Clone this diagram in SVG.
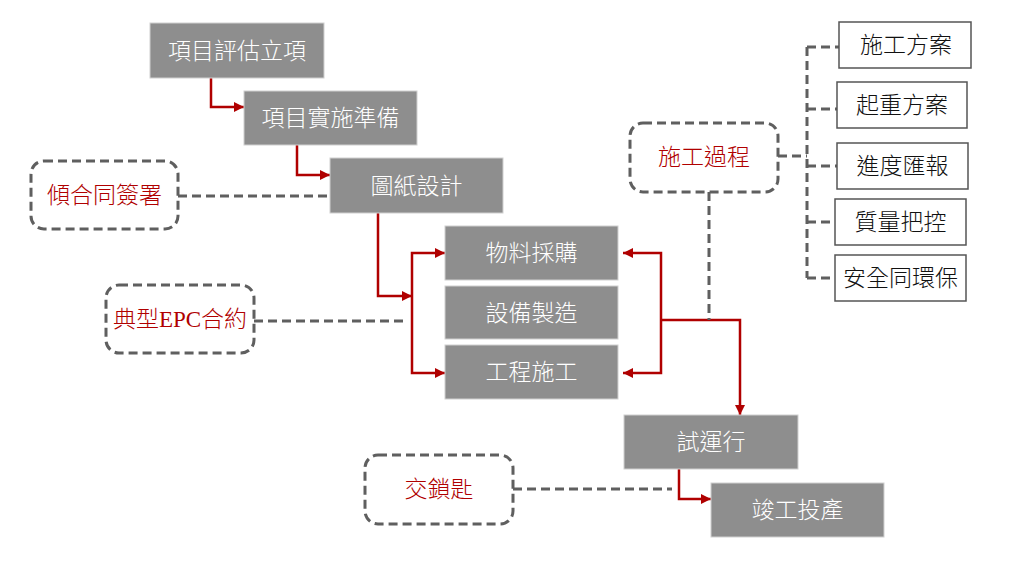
<svg xmlns="http://www.w3.org/2000/svg" width="1024" height="571" viewBox="0 0 1024 571">
<defs>
<marker id="ar" viewBox="0 0 10 10" refX="10" refY="5" markerWidth="11" markerHeight="10" markerUnits="userSpaceOnUse" orient="auto">
<path d="M0,0 L10,5 L0,10 Z" fill="#b00000"/>
</marker>
<style>
.g rect{fill:#8e8e8e;stroke:#d0d0d0;stroke-width:1}
.g text{fill:#ffffff;font-family:"Liberation Serif","Noto Sans CJK TC",serif;font-size:23px;font-weight:300;text-anchor:middle}
.w rect{fill:#ffffff;stroke:#555555;stroke-width:1.5}
.w text{fill:#111111;font-family:"Liberation Serif","Noto Sans CJK TC",serif;font-size:23px;font-weight:300;text-anchor:middle}
.d rect{fill:#ffffff;stroke:#5f5f5f;stroke-width:3;stroke-dasharray:9 5}
.d text{fill:#b00000;font-family:"Liberation Serif","Noto Sans CJK TC",serif;font-size:23px;font-weight:300;text-anchor:middle}
.red{fill:none;stroke:#b00000;stroke-width:2.5}
.dash{fill:none;stroke:#5f5f5f;stroke-width:3;stroke-dasharray:9 5}
</style>
</defs>
<rect width="1024" height="571" fill="#ffffff"/>
<g id="connectors">
<path class="red" d="M211,78 V107 H244" marker-end="url(#ar)"/>
<path class="red" d="M297,145 V175 H330" marker-end="url(#ar)"/>
<path class="red" d="M378,213 V296 H412" marker-end="url(#ar)"/>
<path class="red" d="M412,296 V253 H445" marker-end="url(#ar)"/>
<path class="red" d="M412,296 V373 H445" marker-end="url(#ar)"/>
<path class="red" d="M661,320 V253 H623" marker-end="url(#ar)"/>
<path class="red" d="M661,320 V373 H623" marker-end="url(#ar)"/>
<path class="red" d="M661,320 H740 V415" marker-end="url(#ar)"/>
<path class="red" d="M679,469 V499 H711" marker-end="url(#ar)"/>
<path class="dash" d="M178,196 H330"/>
<path class="dash" d="M254,321 H406"/>
<path class="dash" d="M513,489 H672"/>
<path class="dash" d="M709,192 V320"/>
<path class="dash" d="M778,156 H807"/>
<path class="dash" d="M807,47 V278"/>
<path class="dash" d="M807,47 H839"/>
<path class="dash" d="M807,109 H837"/>
<path class="dash" d="M807,166 H837"/>
<path class="dash" d="M807,222 H835"/>
<path class="dash" d="M807,278 H835"/>
</g>
<g id="n1" class="g"><rect x="150" y="23" width="174" height="55"/><text x="237" y="59">項目評估立項</text></g>
<g id="n2" class="g"><rect x="244" y="91" width="173" height="54"/><text x="330.5" y="126">項目實施準備</text></g>
<g id="n3" class="g"><rect x="330" y="158" width="173" height="55"/><text x="416.5" y="194">圖紙設計</text></g>
<g id="n4" class="g"><rect x="445" y="226" width="173" height="54"/><text x="531.5" y="261">物料採購</text></g>
<g id="n5" class="g"><rect x="445" y="286" width="173" height="53"/><text x="531.5" y="321">設備製造</text></g>
<g id="n6" class="g"><rect x="445" y="345" width="173" height="54"/><text x="531.5" y="380">工程施工</text></g>
<g id="n7" class="g"><rect x="624" y="415" width="174" height="54"/><text x="711" y="450">試運行</text></g>
<g id="n8" class="g"><rect x="711" y="483" width="173" height="54"/><text x="797.5" y="518">竣工投產</text></g>
<g id="d1" class="d"><rect x="31" y="161" width="147" height="68" rx="13"/><text x="104.5" y="203">傾合同簽署</text></g>
<g id="d2" class="d"><rect x="106" y="285" width="148" height="68" rx="13"/><text x="180" y="327">典型EPC合約</text></g>
<g id="d3" class="d"><rect x="630" y="123" width="148" height="69" rx="13"/><text x="704" y="165">施工過程</text></g>
<g id="d4" class="d"><rect x="365" y="455" width="148" height="69" rx="13"/><text x="439" y="497">交鎖匙</text></g>
<g id="w1" class="w"><rect x="839" y="22" width="132" height="46"/><text x="906" y="53">施工方案</text></g>
<g id="w2" class="w"><rect x="837" y="82" width="130" height="46"/><text x="902" y="113">起重方案</text></g>
<g id="w3" class="w"><rect x="837" y="143" width="131" height="46"/><text x="902.5" y="174">進度匯報</text></g>
<g id="w4" class="w"><rect x="835" y="199" width="131" height="46"/><text x="900.5" y="230">質量把控</text></g>
<g id="w5" class="w"><rect x="835" y="255" width="131" height="46"/><text x="900.5" y="286">安全同環保</text></g>
</svg>
